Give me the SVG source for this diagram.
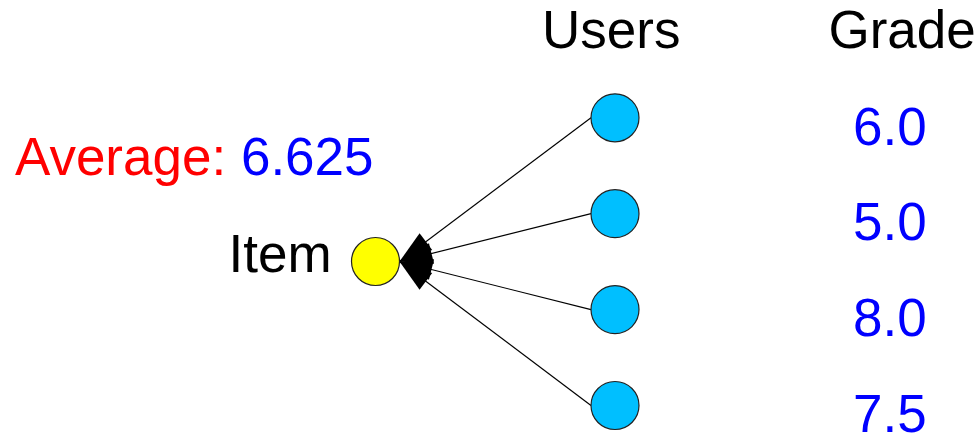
<svg xmlns="http://www.w3.org/2000/svg" width="980" height="436" viewBox="0 0 980 436">
<style>
text{font-family:"Liberation Sans",Arial,sans-serif;font-size:53px}
.user{fill:#00BFFF;stroke:#222;stroke-width:1.2}
.item{fill:#FFFF00;stroke:#222;stroke-width:1.2}
.edge{stroke:#000;stroke-width:1.2;fill:none;marker-end:url(#ah)}
.grade{fill:#0000FF}
</style>
<defs>
<marker id="ah" markerUnits="userSpaceOnUse" markerWidth="40" markerHeight="30" refX="0" refY="0" orient="auto" overflow="visible">
<path d="M0,0 L-33,-10.5 L-33,10.5 Z" fill="#000"/>
</marker>
</defs>
<rect width="980" height="436" fill="#fff"/>
<g id="headers">
<text x="542" y="47.5">Users</text>
<text x="828.5" y="47.5">Grade</text>
</g>
<g id="average">
<text x="15" y="175"><tspan fill="#FF0000">Average: </tspan><tspan fill="#0000FF">6.625</tspan></text>
</g>
<g id="connectors">
<line class="edge" x1="591" y1="117.8" x2="399.5" y2="261.5"/>
<line class="edge" x1="591" y1="213.7" x2="399.5" y2="261.5"/>
<line class="edge" x1="591" y1="309.6" x2="399.5" y2="261.5"/>
<line class="edge" x1="591" y1="405.5" x2="399.5" y2="261.5"/>
</g>
<g id="item">
<circle class="item" cx="375.5" cy="261.5" r="24"/>
<text x="228.5" y="271.7">Item</text>
</g>
<g id="user1"><circle class="user" cx="615" cy="117.8" r="24"/></g>
<g id="user2"><circle class="user" cx="615" cy="213.7" r="24"/></g>
<g id="user3"><circle class="user" cx="615" cy="309.6" r="24"/></g>
<g id="user4"><circle class="user" cx="615" cy="405.5" r="24"/></g>
<g id="grade1"><text class="grade" x="853" y="144.5">6.0</text></g>
<g id="grade2"><text class="grade" x="853" y="240.2">5.0</text></g>
<g id="grade3"><text class="grade" x="853" y="335.8">8.0</text></g>
<g id="grade4"><text class="grade" x="853" y="431.5">7.5</text></g>
</svg>
